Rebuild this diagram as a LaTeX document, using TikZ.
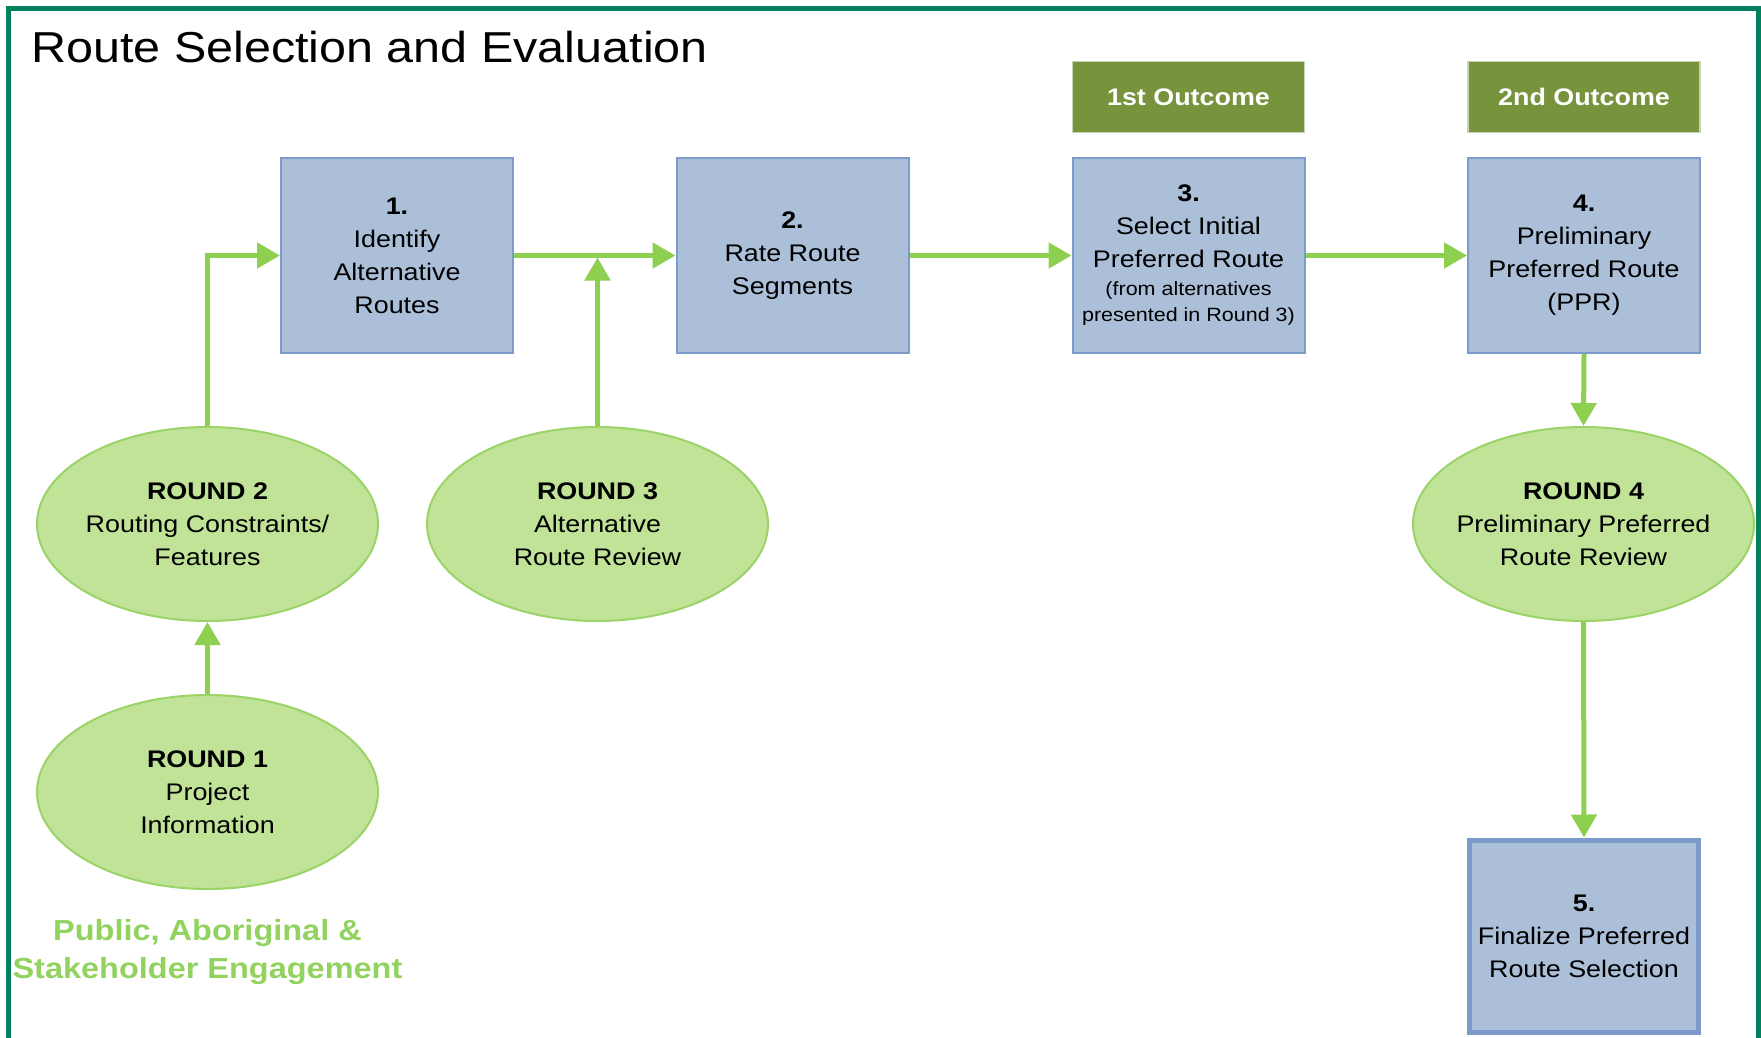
\documentclass[tikz,border=0pt]{standalone}
\usepackage{fontspec}
\setmainfont{Liberation Sans}[FakeStretch=1.12]
\usetikzlibrary{arrows.meta,shapes.geometric}
\definecolor{boxfill}{HTML}{ABBFD9}
\definecolor{boxdraw}{HTML}{7C9BCB}
\definecolor{ellfill}{HTML}{C0E398}
\definecolor{elldraw}{HTML}{9AD468}
\definecolor{arrcol}{HTML}{8DD050}
\definecolor{outfill}{HTML}{77933C}
\definecolor{outdraw}{HTML}{C9D3B6}
\definecolor{pubcol}{HTML}{92D25F}
\definecolor{framecol}{HTML}{00805E}
\tikzset{
  stepbox/.style={rectangle, draw=boxdraw, fill=boxfill, line width=2pt,
    minimum width=232pt, minimum height=195pt, inner sep=0pt, align=center,
    font=\fontsize{24}{33}\selectfont},
  finalbox/.style={stepbox, line width=5pt, minimum width=229pt, minimum height=192pt},
  roundell/.style={ellipse, draw=elldraw, fill=ellfill, line width=2pt,
    minimum width=341pt, minimum height=194pt, inner xsep=-30pt, inner ysep=0pt, align=center,
    font=\fontsize{24}{33}\selectfont},
  outbox/.style={rectangle, draw=outdraw, fill=outfill, line width=1.5pt,
    minimum width=232pt, minimum height=71pt, inner sep=0pt, text=white,
    font=\fontsize{24}{30}\selectfont\bfseries},
  arr/.style={draw=arrcol, line width=5pt, -{Triangle[length=23pt,width=25pt]}}
}
\begin{document}
\begin{tikzpicture}[x=1pt,y=-1pt]
\useasboundingbox (0,0) rectangle (1761,1038);
\fill[white] (0,0) rectangle (1761,1038);
\draw[framecol, line width=5.5pt] (8.5,8.5) rectangle (1758.5,1080);
\node[anchor=base west, font=\fontsize{43.3}{50}\selectfont, inner sep=0pt] (title) at (31,63) {Route Selection and Evaluation};

\node[outbox] (o1) at (1188.5,97) {1st Outcome};
\node[outbox] (o2) at (1584,97) {2nd Outcome};

\node[stepbox] (b1) at (397,255.5) {\textbf{1.}\\Identify\\Alternative\\Routes};
\node[stepbox] (b2) at (792.5,255.5) {\textbf{2.}\\Rate Route\\Segments};
\node[stepbox] (b3) at (1188.5,255.5) {\textbf{3.}\\Select Initial\\Preferred Route\\[-5pt]{\fontsize{19.2}{26}\selectfont (from alternatives}\\[-7pt]{\fontsize{19.2}{26}\selectfont presented in Round 3)}};
\node[stepbox] (b4) at (1584,255.5) {\textbf{4.}\\Preliminary\\Preferred Route\\(PPR)};
\node[finalbox] (b5) at (1584,936) {\textbf{5.}\\Finalize Preferred\\Route Selection};

\node[roundell] (r2) at (207.5,524) {\textbf{ROUND 2}\\Routing Constraints/\\Features};
\node[roundell] (r3) at (597.5,524) {\textbf{ROUND 3}\\Alternative\\Route Review};
\node[roundell] (r4) at (1583.5,524) {\textbf{ROUND 4}\\Preliminary Preferred\\Route Review};
\node[roundell] (r1) at (207.5,792) {\textbf{ROUND 1}\\Project\\Information};

\node[align=center, text=pubcol, font=\fontsize{29}{38}\selectfont\bfseries, inner sep=0pt] (pub) at (207.5,952) {Public, Aboriginal \&\\Stakeholder Engagement};

\draw[arr] (r1.north) -- (r2.south);
\draw[arr] (r2.north) |- (b1.west);
\draw[arr] (b1.east) -- (b2.west);
\draw[arr, shorten >=2pt] (r3.north) -- (r3.north |- b1.east);
\draw[arr] (b2.east) -- (b3.west);
\draw[arr] (b3.east) -- (b4.west);
\draw[arr] (b4.south) -- (r4.north);
\draw[arr] (r4.south) -- (b5.north);
\end{tikzpicture}
\end{document}
